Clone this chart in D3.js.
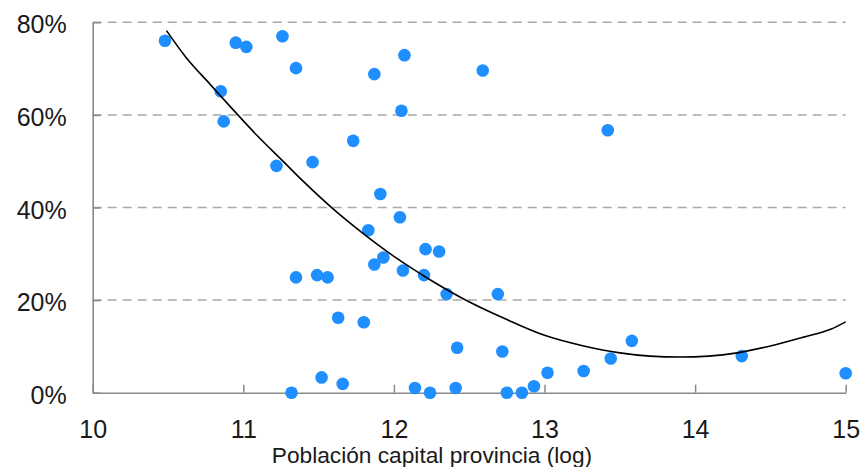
<!DOCTYPE html>
<html>
<head>
<meta charset="utf-8">
<script src="https://cdn.jsdelivr.net/npm/d3@7"></script>
<style>
  html, body { margin: 0; padding: 0; background: #fff; }
  svg { display: block; }
  text { font-family: "Liberation Sans", Arial, Helvetica, sans-serif; fill: #1a1a1a; }
</style>
</head>
<body>
<svg id="chart" width="866" height="467"></svg>
<script>
// ---- Data ----
const popLog = [10.48, 10.95, 11.02, 11.26, 11.35, 10.85, 10.87, 11.22, 11.46, 11.87,
                12.07, 12.59, 12.05, 11.73, 11.91, 12.04, 11.83, 12.21, 12.30, 11.93,
                11.87, 12.06, 12.20, 11.35, 11.49, 11.56, 12.35, 12.69, 11.63, 11.80,
                12.42, 12.72, 13.58, 13.44, 14.31, 15.00, 13.26, 13.02, 12.93, 11.52,
                11.66, 12.14, 12.41, 11.32, 12.24, 12.75, 12.85, 13.42];
const share  = [76.0, 75.6, 74.7, 77.0, 70.1, 65.1, 58.6, 49.0, 49.8, 68.8,
                72.9, 69.6, 60.9, 54.4, 42.9, 37.9, 35.1, 31.0, 30.5, 29.2,
                27.7, 26.4, 25.4, 24.9, 25.4, 24.9, 21.3, 21.3, 16.2, 15.2,
                9.7, 8.9, 11.2, 7.4, 7.9, 4.2, 4.7, 4.3, 1.4, 3.3,
                1.9, 1.0, 1.0, 0.0, 0.0, 0.0, 0.0, 56.7];
// Fitted trend line
const trendX = [10.49, 10.62, 10.78, 10.93, 11.09, 11.27, 11.39, 11.60, 11.78, 12.02,
                12.24, 12.46, 12.75, 13.00, 13.26, 13.50, 13.70, 13.90, 14.09, 14.28,
                14.50, 14.72, 14.90, 15.00];
const trendY = [78.2, 72.4, 66.6, 61.2, 55.6, 49.8, 45.9, 39.6, 34.8, 29.0,
                24.4, 20.3, 15.8, 12.4, 10.1, 8.6, 7.9, 7.7, 7.9, 8.6,
                10.1, 12.0, 13.7, 15.3];
const xTicks = [10, 11, 12, 13, 14, 15];
const yTicks = [0, 20, 40, 60, 80];
const xTitle = "Población capital provincia (log)";

// ---- Chart ----
const svg = d3.select("#chart");
const x = d3.scaleLinear().domain([10, 15]).range([92.7, 845.7]);
const y = d3.scaleLinear().domain([0, 80]).range([392.7, 22.3]);
const axisColor = "#8a8a8a";

// gridlines (dashed)
svg.append("g").selectAll("line")
  .data(yTicks.filter(d => d > 0))
  .join("line")
  .attr("x1", x(10)).attr("x2", x(15))
  .attr("y1", d => y(d)).attr("y2", d => y(d))
  .attr("stroke", "#a8a8a8")
  .attr("stroke-width", 1.5)
  .attr("stroke-dasharray", "9,6");

// y axis
const gy = svg.append("g").attr("transform", `translate(${x(10)},0)`)
  .call(d3.axisLeft(y).tickValues(yTicks).tickSizeInner(-8).tickSizeOuter(0)
        .tickFormat(d => d + "%"));
gy.select(".domain").attr("stroke", axisColor).attr("stroke-width", 1.6);
gy.selectAll(".tick line").attr("stroke", axisColor).attr("stroke-width", 1.5);
gy.selectAll(".tick text")
  .attr("x", -26).attr("dy", "0.42em")
  .attr("font-size", 25).attr("text-anchor", "end")
  .style("font-family", "'Liberation Sans', Arial, sans-serif").attr("fill", "#1a1a1a");

// x axis
const gx = svg.append("g").attr("transform", `translate(0,${y(0)})`)
  .call(d3.axisBottom(x).tickValues(xTicks).tickSizeInner(-8).tickSizeOuter(0)
        .tickFormat(d3.format("d")));
gx.select(".domain").attr("stroke", axisColor).attr("stroke-width", 1.6);
gx.selectAll(".tick line").attr("stroke", axisColor).attr("stroke-width", 1.5);
gx.selectAll(".tick text")
  .attr("y", 45.5).attr("dy", 0)
  .attr("font-size", 25).attr("text-anchor", "middle")
  .style("font-family", "'Liberation Sans', Arial, sans-serif").attr("fill", "#1a1a1a");

// x title
svg.append("text")
  .attr("x", 432).attr("y", 463)
  .attr("text-anchor", "middle")
  .attr("font-size", 22.7)
  .text(xTitle);

// points
const pts = popLog.map((v, i) => ({ x: v, y: share[i] }));
svg.append("g").selectAll("circle")
  .data(pts)
  .join("circle")
  .attr("cx", d => x(d.x))
  .attr("cy", d => y(d.y))
  .attr("r", 6.3)
  .attr("fill", "#1f8fff");

// trend line
const trend = trendX.map((v, i) => [v, trendY[i]]);
svg.append("path")
  .datum(trend)
  .attr("fill", "none")
  .attr("stroke", "#000")
  .attr("stroke-width", 1.6)
  .attr("d", d3.line().x(d => x(d[0])).y(d => y(d[1])).curve(d3.curveMonotoneX));
</script>
</body>
</html>
